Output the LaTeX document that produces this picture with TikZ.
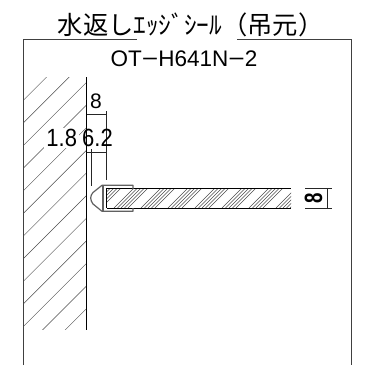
\documentclass[tikz,border=0pt]{standalone}
\usepackage{fontspec}
\setmainfont{Liberation Sans}
\newfontfamily\jpfont{Noto Sans CJK JP}
\tikzset{
  frameline/.style={line width=0.8pt,draw=black!75},
  cadline/.style={line width=0.9pt,draw=black},
  hatchline/.style={line width=0.45pt,draw=black!70},
  dimline/.style={line width=0.6pt,draw=black!85},
  seal/.style={line width=1.2pt,draw=black!62,line join=round},
  dimtext/.style={font=\fontsize{21}{21}\selectfont,inner sep=0pt,text=black},
  tallnum/.style={font=\fontsize{22}{22}\selectfont,inner sep=0pt,text=black}
}
\begin{document}
\begin{tikzpicture}[x=1pt,y=-1pt]
\useasboundingbox (0,0) rectangle (382,365);
\fill[white] (0,0) rectangle (382,365);
% frame
\coordinate (fa) at (23.5,365);
\coordinate (fb) at (23.5,39.5);
\coordinate (fc) at (137,39.5);
\coordinate (fd) at (237,39.5);
\coordinate (fe) at (351,39.5);
\coordinate (ff) at (351,365);
\draw[frameline] (fa) -- (fb) -- (fc);
\draw[frameline] (fd) -- (fe) -- (ff);
% wall hatch
\begin{scope}
\clip (23.5,77) rectangle (86.5,329.5);
\foreach \k in {0,...,12}{
  \pgfmathsetmacro{\s}{123.6+22.63*\k}
  \draw[hatchline] (0,\s) -- (\s,0);
}
\end{scope}
\draw[cadline] (86.5,77) -- (86.5,329.5);
% labels with white ground
\node[tallnum,fill=white,inner xsep=2pt,inner ysep=1pt] (t18) at (61.7,137.7) {\scalebox{1}[1.13]{1.8}};
% dims
\draw[dimline] (86.5,114.5) -- (106.3,114.5);
\draw[dimline] (106.3,111) -- (106.3,180);
\draw[dimline] (86.5,152.7) -- (106.3,152.7);
\draw[dimline] (91,149) -- (91,186);
\node[dimtext] (t8) at (96,101.7) {8};
\node[tallnum] (t62) at (97.5,137.7) {\scalebox{1}[1.13]{6.2}};
% panel
\begin{scope}
\clip (106.5,188) rectangle (291,208);
\foreach \x in {0,...,8}{
  \foreach \d in {0,3.5,7,10.5,14}{
    \pgfmathsetmacro{\a}{101+\x*27-\d}
    \draw[hatchline] (\a,208) -- (\a+20,188);
  }
}
\end{scope}
\draw[cadline] (106.5,188) -- (291,188);
\draw[cadline] (106.5,208) -- (291,208);
\draw[cadline] (106.5,188) -- (106.5,208);
% seal
\draw[seal] (133,189) -- (133,185.3) -- (102,185.3) -- (93,192.5) .. controls (91.5,194) and (90.7,196) .. (90.7,198) .. controls (90.7,200) and (91.5,202) .. (93,204) -- (102,211.3) -- (133,211.3) -- (133,208);
\draw[seal] (103,185.3) -- (103,211.3);
% dim right
\draw[dimline] (305,188) -- (332,188);
\draw[dimline] (305,208) -- (332,208);
\draw[dimline] (327.7,188) -- (327.7,208);
\node[inner sep=0pt,rotate=90,font=\bfseries\fontsize{25}{25}\selectfont] (t8r) at (313.5,198) {\scalebox{.75}[1]{8}};
% titles
\node[anchor=base west,inner sep=0pt,font=\jpfont\fontsize{25.3}{25.3}\selectfont] (title) at (57.5,34) {水返しｴｯｼﾞｼｰﾙ（吊元）};
\node[inner sep=0pt,font=\fontsize{22.5}{22.5}\selectfont] (code) at (184,59) {OT\scalebox{1.25}[1]{−}H641N\scalebox{1.25}[1]{−}2};
\end{tikzpicture}
\end{document}
